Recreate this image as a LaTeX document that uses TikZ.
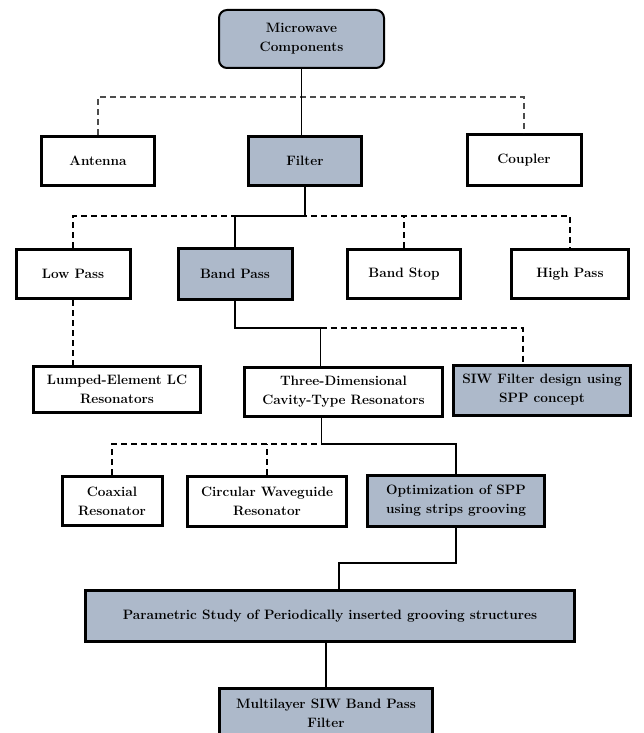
\documentclass[tikz,border=0pt]{standalone}
\usetikzlibrary{calc}
\definecolor{boxfill}{RGB}{173,185,202}
\tikzset{
    box/.style={draw, line width=3pt, fill=white, inner sep=1pt, align=center,
        font=\fontsize{13.6}{19}\selectfont\bfseries},
    filled/.style={box, fill=boxfill},
    link/.style={line width=1.6pt},
    dlink/.style={line width=1.6pt, dash pattern=on 6pt off 4pt},
}
\begin{document}
\begin{tikzpicture}[x=1pt, y=-1pt]
    \useasboundingbox (0, 0) rectangle (644, 733);

    % top
    \node[filled, line width=2pt, rounded corners=8pt, minimum width=165pt, minimum height=58pt] (mw) at (301.5, 39) {Microwave\\Components};
    \node[box, minimum width=113pt, minimum height=49pt] (antenna) at (98, 161) {Antenna};
    \node[filled, minimum width=113pt, minimum height=49pt] (filter) at (305, 161) {Filter};
    \node[box, minimum width=114pt, minimum height=51pt] (coupler) at (524, 160) {Coupler};

    % filter types
    \node[box, minimum width=114pt, minimum height=49pt] (lowpass) at (73, 274) {Low Pass};
    \node[filled, minimum width=114pt, minimum height=51pt] (bandpass) at (235, 274) {Band Pass};
    \node[box, minimum width=113pt, minimum height=49pt] (bandstop) at (404, 274) {Band Stop};
    \node[box, minimum width=117pt, minimum height=49pt] (highpass) at (570, 274) {High Pass};

    % resonators
    \node[box, minimum width=167pt, minimum height=46pt] (lumped) at (117, 389) {Lumped-Element LC\\Resonators};
    \node[box, minimum width=198pt, minimum height=49pt] (three) at (343.5, 392) {Three-Dimensional\\Cavity-Type Resonators};
    \node[filled, minimum width=177pt, minimum height=50pt] (siw) at (542, 390) {SIW Filter design using\\SPP concept};

    \node[box, minimum width=100pt, minimum height=49pt] (coax) at (112, 501) {Coaxial\\Resonator};
    \node[box, minimum width=159pt, minimum height=50pt] (circ) at (267, 501) {Circular Waveguide\\Resonator};
    \node[filled, minimum width=177pt, minimum height=51pt] (optim) at (456, 501) {Optimization of SPP\\using strips grooving};

    \node[filled, minimum width=489pt, minimum height=51pt] (param) at (330, 616) {Parametric Study of Periodically inserted grooving structures};
    \node[filled, minimum width=213pt, minimum height=50pt] (multi) at (326, 713) {Multilayer SIW Band Pass\\Filter};

    % bus heights
    \coordinate (bus1) at (0, 97);
    \coordinate (bus2) at (0, 216);
    \coordinate (bus3) at (0, 328);
    \coordinate (bus4) at (0, 444);
    \coordinate (bus5) at (0, 563);

    % level 1
    \draw[dlink, gray!60!black] (antenna.north) -- (antenna.north |- bus1) -| (coupler.north);
    \draw[link] (mw.south) -- (mw.south |- filter.north);

    % level 2
    \draw[dlink] (lowpass.north) -- (lowpass.north |- bus2) -| (highpass.north);
    \draw[dlink] (bandstop.north) -- (bandstop.north |- bus2);
    \draw[link] (filter.south) -- (filter.south |- bus2) -| (bandpass.north);

    % level 3
    \draw[dlink] (lowpass.south) -- (lowpass.south |- lumped.north);
    \draw[dlink] ([xshift=-23pt]three.north |- bus3) -| ([xshift=-19pt]siw.north);
    \draw[link] (bandpass.south) -- (bandpass.south |- bus3) -| ([xshift=-23pt]three.north);

    % level 4
    \draw[dlink] (coax.north) -- (coax.north |- bus4) -- ([xshift=-22pt]three.south |- bus4);
    \draw[dlink] (circ.north) -- (circ.north |- bus4);
    \draw[link] ([xshift=-22pt]three.south) -- ([xshift=-22pt]three.south |- bus4) -| (optim.north);

    % level 5
    \draw[link] (optim.south) -- (optim.south |- bus5) -| ([xshift=9pt]param.north);
    \draw[link] (multi.north |- param.south) -- (multi.north);
\end{tikzpicture}
\end{document}
